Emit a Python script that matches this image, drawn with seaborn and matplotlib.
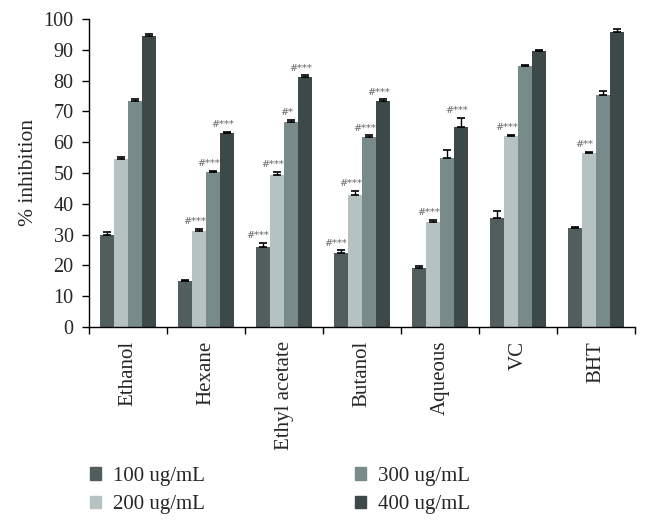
import numpy as np
import pandas as pd
import matplotlib
matplotlib.use("Agg")
import matplotlib.pyplot as plt
import seaborn as sns

categories = ["Ethanol", "Hexane", "Ethyl acetate", "Butanol", "Aqueous", "VC", "BHT"]
series = ["100 ug/mL", "200 ug/mL", "300 ug/mL", "400 ug/mL"]
v100 = [30.0, 14.9, 25.9, 24.0, 19.2, 35.3, 32.3]
v200 = [54.6, 31.3, 49.2, 43.0, 34.2, 62.1, 56.6]
v300 = [73.4, 50.4, 66.6, 61.7, 54.9, 84.8, 75.3]
v400 = [94.6, 62.9, 81.2, 73.3, 65.0, 89.7, 95.9]
e100 = [1.0, 0.3, 1.3, 0.9, 0.6, 2.5, 0.3]
e200 = [0.5, 0.6, 1.2, 1.1, 0.6, 0.2, 0.2]
e300 = [0.5, 0.4, 0.6, 0.5, 2.6, 0.2, 1.3]
e400 = [0.6, 0.5, 0.5, 0.6, 2.8, 0.2, 1.0]
# (category, series, label)
annotations = [
    ("Hexane", "200 ug/mL", "#***"), ("Hexane", "300 ug/mL", "#***"), ("Hexane", "400 ug/mL", "#***"),
    ("Ethyl acetate", "100 ug/mL", "#***"), ("Ethyl acetate", "200 ug/mL", "#***"),
    ("Ethyl acetate", "300 ug/mL", "#*"), ("Ethyl acetate", "400 ug/mL", "#***"),
    ("Butanol", "100 ug/mL", "#***"), ("Butanol", "200 ug/mL", "#***"),
    ("Butanol", "300 ug/mL", "#***"), ("Butanol", "400 ug/mL", "#***"),
    ("Aqueous", "200 ug/mL", "#***"), ("Aqueous", "400 ug/mL", "#***"),
    ("VC", "200 ug/mL", "#***"),
    ("BHT", "200 ug/mL", "#**"),
]

colors = ["#525e5e", "#b5c2c1", "#788a8a", "#3d4848"]

vals = [v100, v200, v300, v400]
errs = [e100, e200, e300, e400]
rows = []
for s, vv, ee in zip(series, vals, errs):
    for c, v, e in zip(categories, vv, ee):
        rows.append({"cat": c, "conc": s, "val": v, "err": e})
df = pd.DataFrame(rows)

sns.set_theme(style="white")
plt.rcParams["font.family"] = ["Liberation Serif", "DejaVu Serif"]

fig = plt.figure(figsize=(6.5, 5.29), dpi=100)
ax = fig.add_axes([89/650, 1-327/529, (635-89)/650, (327-19)/529])

sns.barplot(data=df, x="cat", y="val", hue="conc", order=categories, hue_order=series,
            palette=colors, width=0.73, errorbar=None, saturation=1, ax=ax, legend=False,
            linewidth=0)

bars = [p for p in ax.patches]
lookup = {}
k = 0
for si, s in enumerate(series):
    for ci, c in enumerate(categories):
        p = bars[k]
        k += 1
        x = p.get_x() + p.get_width() / 2
        h = p.get_height()
        e = errs[si][ci]
        ax.errorbar(x, h, yerr=[[0], [e]], fmt="none", ecolor="black",
                    elinewidth=1.0, capsize=3.2, capthick=1.2)
        lookup[(c, s)] = (x, h + e)

for c, s, t in annotations:
    x, top = lookup[(c, s)]
    ax.text(x - 0.06, top + 0.9, t, ha="center", va="bottom", fontsize=7,
            color="#6a6a6a", family=["DejaVu Serif"])

ax.set_ylim(0, 100)
ax.set_xlim(-0.5, len(categories) - 0.5)
ax.set_yticks(np.arange(0, 101, 10))
ax.set_ylabel("% inhibition", fontsize=15.5, labelpad=4)
ax.set_xlabel("")

ax.set_xticks(np.arange(-0.5, len(categories), 1.0))
ax.set_xticklabels([])
ax.set_xticks(np.arange(len(categories)), minor=True)
ax.set_xticklabels(categories, minor=True, rotation=90, fontsize=15)
ax.tick_params(axis="x", which="major", direction="out", length=5, width=1, color="black", bottom=True)
ax.tick_params(axis="x", which="minor", length=0, pad=10)
ax.tick_params(axis="y", direction="out", length=5, width=1, color="black", left=True, labelsize=14.5, pad=6)

for side in ["top", "right"]:
    ax.spines[side].set_visible(False)
for side in ["left", "bottom"]:
    ax.spines[side].set_color("black")
    ax.spines[side].set_linewidth(1.0)

handles = [plt.Rectangle((0, 0), 1, 1, color=col) for col in colors]
fig.legend(handles, series, ncol=2, frameon=False, loc="upper left",
           bbox_to_anchor=(90/650, 1-467/529), fontsize=15, handlelength=0.55,
           handleheight=0.55, handletextpad=0.55, columnspacing=7.2, labelspacing=0.45,
           borderpad=0, borderaxespad=0)

fig.savefig("out.png", dpi=100)
